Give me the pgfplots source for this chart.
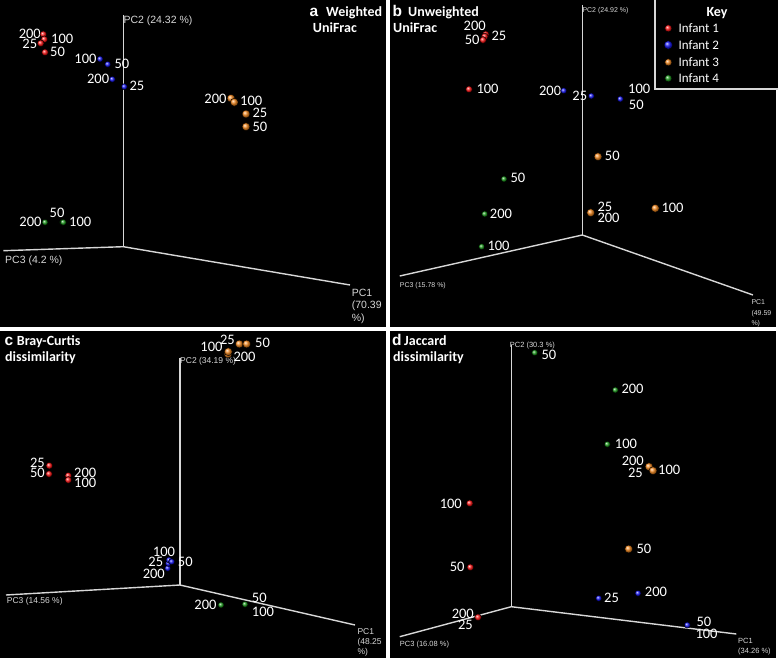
\documentclass[border=0pt]{standalone}
\usepackage{pgfplots}
\pgfplotsset{compat=1.18}
\usepackage{fontspec}
\setmainfont{Carlito}
\newfontfamily\arial{Liberation Sans}

\definecolor{inf1}{RGB}{255,25,25}
\definecolor{inf2}{RGB}{25,25,245}
\definecolor{inf3}{RGB}{245,138,32}
\definecolor{inf4}{RGB}{30,155,30}
\definecolor{axgray}{RGB}{215,215,215}

\tikzset{
  num/.style={text=white, inner sep=0pt, font=\fontsize{14.5}{14.5}\selectfont, yshift=-4.6pt},
  nl/.style={num, anchor=base west},
  nr/.style={num, anchor=base east},
  nc/.style={num, anchor=base},
  ttl/.style={text=white, inner sep=0pt, anchor=base west, font=\bfseries\fontsize{14}{14}\selectfont, yshift=-4.5pt},
  let/.style={text=white, inner sep=0pt, anchor=base west, font=\arial\bfseries\fontsize{15.5}{15.5}\selectfont, yshift=-4.5pt},
  pc/.style={text=axgray, inner sep=0pt, anchor=base west, yshift=-0.36*#1 pt, font=\arial\fontsize{#1}{#1}\selectfont},
}
\pgfplotsset{
  pcaxis/.style={draw=axgray, line width=1.4pt, no marks},
  s1/.style={only marks, mark=ball, ball color=inf1, mark size=3.4pt},
  s2/.style={only marks, mark=ball, ball color=inf2, mark size=3.1pt},
  s3/.style={only marks, mark=ball, ball color=inf3, mark size=4pt},
  s4/.style={only marks, mark=ball, ball color=inf4, mark size=3.1pt},
}

\begin{document}
\begin{tikzpicture}
\begin{axis}[
    x=1pt, y=1pt, y dir=reverse,
    xmin=0, xmax=778, ymin=0, ymax=660,
    axis lines=none,
    axis background/.style={fill=white},
    clip=true,
]
% panels
\addplot[fill=black, draw=none] coordinates {(0,0) (386,0) (386,327) (0,327)} -- cycle;
\addplot[fill=black, draw=none] coordinates {(390,0) (776,0) (776,327) (390,327)} -- cycle;
\addplot[fill=black, draw=none] coordinates {(0,331) (386,331) (386,658) (0,658)} -- cycle;
\addplot[fill=black, draw=none] coordinates {(390,331) (776,331) (776,658) (390,658)} -- cycle;

% ---------- a: Weighted UniFrac ----------
\addplot[pcaxis] coordinates {(123.3,15) (123.3,246.7)};
\addplot[pcaxis] coordinates {(3.3,250.7) (123.3,246.7) (350,285)};
\node[pc=10.5] at (axis cs:123.3,19.3) {PC2 (24.32 \%)};
\node[pc=10.5] at (axis cs:5,260) {PC3 (4.2 \%)};
\node[pc=10.5] at (axis cs:351.7,293) {PC1};
\node[pc=10.5] at (axis cs:351.7,305) {(70.39};
\node[pc=10.5] at (axis cs:351.7,318) {\%)};
\node[let] at (axis cs:309.5,11.7) {a};
\node[ttl] at (axis cs:326,11.7) {Weighted};
\node[ttl] at (axis cs:312.7,28.3) {UniFrac};

\addplot[s1] coordinates {(43.3,34.3) (44.3,39.3) (40.7,43.3) (45,52.3)};
\addplot[s2] coordinates {(100,59) (107.7,64.3) (112.3,79.3) (124.3,86.7)};
\addplot[s3] coordinates {(231,98.3) (234.3,102.3) (246,114) (246,126.7)};
\addplot[s4] coordinates {(45,222.3) (62.5,222.3) (63.3,222.3)};
\node[nr] at (axis cs:41,34.3) {200};
\node[nl] at (axis cs:51,39.3) {100};
\node[nr] at (axis cs:37.3,44) {25};
\node[nl] at (axis cs:50,52.3) {50};
\node[nr] at (axis cs:96.7,59) {100};
\node[nl] at (axis cs:114.3,64) {50};
\node[nr] at (axis cs:109.3,79.3) {200};
\node[nl] at (axis cs:129.3,85.7) {25};
\node[nr] at (axis cs:226.7,99) {200};
\node[nl] at (axis cs:240,100.7) {100};
\node[nl] at (axis cs:252.3,113.3) {25};
\node[nl] at (axis cs:252.3,126.7) {50};
\node[nr] at (axis cs:41.7,221.7) {200};
\node[nc] at (axis cs:57,213.3) {50};
\node[nl] at (axis cs:69,221.7) {100};

% ---------- b: Unweighted UniFrac ----------
\addplot[pcaxis] coordinates {(582.3,5) (582.3,235)};
\addplot[pcaxis] coordinates {(399.7,276) (582.3,235) (753,295)};
\node[pc=7] at (axis cs:582.3,10) {PC2 (24.92 \%)};
\node[pc=7] at (axis cs:399.7,285) {PC3 (15.78 \%)};
\node[pc=7] at (axis cs:751.3,301.7) {PC1};
\node[pc=7] at (axis cs:751.3,313.3) {(49.59};
\node[pc=7] at (axis cs:751.3,322.7) {\%)};
\node[let] at (axis cs:392.5,11.7) {b};
\node[ttl] at (axis cs:408,11.7) {Unweighted};
\node[ttl] at (axis cs:393,28.3) {UniFrac};

\addplot[s1] coordinates {(485.7,34.3) (484.7,36.5) (483,40) (469,89.3)};
\addplot[s2] coordinates {(563.7,90.7) (591.3,96) (620.3,99)};
\addplot[s3] coordinates {(598,156.7) (590.7,212.7) (655.3,208.3)};
\addplot[s4] coordinates {(504,179) (484.7,214) (481.7,246.7)};
\node[nc] at (axis cs:474.7,26) {200};
\node[nr] at (axis cs:479.7,40) {50};
\node[nl] at (axis cs:491.3,35.7) {25};
\node[nl] at (axis cs:476.3,89.3) {100};
\node[nr] at (axis cs:561.3,90.7) {200};
\node[nr] at (axis cs:587.3,96) {25};
\node[nl] at (axis cs:628,89.3) {100};
\node[nl] at (axis cs:628.7,105) {50};
\node[nl] at (axis cs:604.7,155.7) {50};
\node[nl] at (axis cs:597.3,206.7) {25};
\node[nl] at (axis cs:597.3,218.3) {200};
\node[nl] at (axis cs:661.3,208.3) {100};
\node[nl] at (axis cs:510.3,178.3) {50};
\node[nl] at (axis cs:489.7,214) {200};
\node[nl] at (axis cs:487.3,246) {100};

% key
\addplot[fill=black, draw=axgray, line width=2.5pt] coordinates {(655,-3) (779,-3) (779,89) (655,89)} -- cycle;
\node[ttl, anchor=base] at (axis cs:717,11.7) {Key};
\addplot[only marks, mark=ball, ball color=inf1, mark size=3.6pt] coordinates {(668.3,28.3)};
\addplot[only marks, mark=ball, ball color=inf2, mark size=4.3pt] coordinates {(668.3,45)};
\addplot[only marks, mark=ball, ball color=inf3, mark size=3.6pt] coordinates {(668.3,62.3)};
\addplot[only marks, mark=ball, ball color=inf4, mark size=3.6pt] coordinates {(668.3,78.3)};
\node[nl, font=\fontsize{13}{13}\selectfont] at (axis cs:678.3,28.3) {Infant 1};
\node[nl, font=\fontsize{13}{13}\selectfont] at (axis cs:678.3,45) {Infant 2};
\node[nl, font=\fontsize{13}{13}\selectfont] at (axis cs:678.3,62.3) {Infant 3};
\node[nl, font=\fontsize{13}{13}\selectfont] at (axis cs:678.3,78.3) {Infant 4};

% ---------- c: Bray-Curtis ----------
\addplot[pcaxis] coordinates {(180,358.3) (180,585)};
\addplot[pcaxis] coordinates {(6,595) (180,585) (355,625)};
\node[pc=8.5] at (axis cs:180,360) {PC2 (34.19 \%)};
\node[pc=8.5] at (axis cs:6.7,600) {PC3 (14.56 \%)};
\node[pc=8.5] at (axis cs:357.3,631.7) {PC1};
\node[pc=8.5] at (axis cs:357.3,641.7) {(48.25};
\node[pc=8.5] at (axis cs:357.3,651) {\%)};
\node[let] at (axis cs:4.5,341) {c};
\node[ttl] at (axis cs:16.7,341) {Bray-Curtis};
\node[ttl] at (axis cs:5,356.7) {dissimilarity};

\addplot[s1] coordinates {(49.3,465.7) (49,474) (68.3,475.7) (68.3,480)};
\addplot[s3] coordinates {(239.3,344) (246.7,344) (228,354) (228.3,351.7)};
\addplot[s2] coordinates {(167.7,568.3) (168.3,563.3) (169,560) (171.7,561.7)};
\addplot[s4] coordinates {(221,605) (245,604.3)};
\node[nr] at (axis cs:45,463.3) {25};
\node[nr] at (axis cs:45,473.3) {50};
\node[nl] at (axis cs:74,472.7) {200};
\node[nl] at (axis cs:74,483.3) {100};
\node[nr] at (axis cs:235,340) {25};
\node[nl] at (axis cs:255,343.3) {50};
\node[nr] at (axis cs:222.7,347.3) {100};
\node[nl] at (axis cs:233.3,357.3) {200};
\node[nc] at (axis cs:164,551.7) {100};
\node[nr] at (axis cs:163.3,562.3) {25};
\node[nr] at (axis cs:165,574) {200};
\node[nl] at (axis cs:177.7,561.7) {50};
\node[nr] at (axis cs:216.7,605) {200};
\node[nl] at (axis cs:251.7,598.3) {50};
\node[nl] at (axis cs:251.7,611.7) {100};

% ---------- d: Jaccard ----------
\addplot[pcaxis] coordinates {(511.3,345) (511.3,606.7)};
\addplot[pcaxis] coordinates {(399.7,636.7) (511.3,606.7) (736.3,634)};
\node[pc=7.5] at (axis cs:509.7,345) {PC2 (30.3 \%)};
\node[pc=7.5] at (axis cs:399.7,644) {PC3 (16.08 \%)};
\node[pc=7.5] at (axis cs:738,640.7) {PC1};
\node[pc=7.5] at (axis cs:738,650.7) {(34.26 \%)};
\node[let] at (axis cs:392,341) {d};
\node[ttl] at (axis cs:404,341) {Jaccard};
\node[ttl] at (axis cs:393,356.7) {dissimilarity};

\addplot[s4] coordinates {(534.7,352.7) (615.3,390) (607.3,444.3)};
\addplot[s3] coordinates {(649,466.7) (653,470.7) (628.7,549)};
\addplot[s1] coordinates {(469.7,503.3) (470.3,567.3) (478,617.3)};
\addplot[s2] coordinates {(598.7,598.3) (638,593.3) (687.3,625)};
\node[nl] at (axis cs:541.3,355) {50};
\node[nl] at (axis cs:621.3,389) {200};
\node[nl] at (axis cs:614.7,444.3) {100};
\node[nr] at (axis cs:644,460.7) {200};
\node[nr] at (axis cs:643,472.7) {25};
\node[nl] at (axis cs:658,470) {100};
\node[nl] at (axis cs:636.3,549) {50};
\node[nr] at (axis cs:462,504) {100};
\node[nr] at (axis cs:464.7,567.3) {50};
\node[nr] at (axis cs:474,614.3) {200};
\node[nr] at (axis cs:473,625) {25};
\node[nl] at (axis cs:604,598.3) {25};
\node[nl] at (axis cs:644.7,592.3) {200};
\node[nl] at (axis cs:696.3,621.7) {50};
\node[nl] at (axis cs:695.3,634) {100};
\end{axis}
\end{tikzpicture}
\end{document}
